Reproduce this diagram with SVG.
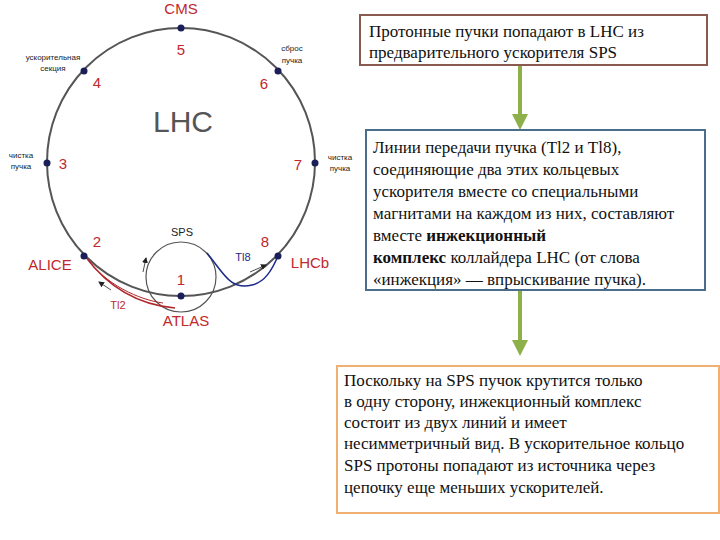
<svg xmlns="http://www.w3.org/2000/svg" width="720" height="540" viewBox="0 0 720 540">
<style>
.lbl{font-family:"Liberation Sans",Arial,sans-serif;fill:#c0282c}
.sm{font-family:"Liberation Sans",Arial,sans-serif;font-size:8px;fill:#222}
.tx{font-family:"Liberation Serif","Times New Roman",serif;font-size:17px;fill:#111}
.dot{fill:#1a1f5a}
</style>
<defs><marker id="ga" markerWidth="4" markerHeight="4" refX="2" refY="2" orient="auto"><path d="M0,0L4,2L0,4z" fill="#8db04a"/></marker>
<marker id="ka" markerWidth="6" markerHeight="6" refX="5" refY="3" orient="auto" markerUnits="userSpaceOnUse"><path d="M0,0L6,3L0,6z" fill="#222"/></marker></defs>
<rect width="720" height="540" fill="#fff"/>
<g id="lhc">
<circle cx="181" cy="162" r="134" fill="none" stroke="#555" stroke-width="2"/>
<text x="183" y="132" font-family="Liberation Sans,Arial,sans-serif" font-size="30" fill="#555" text-anchor="middle">LHC</text>
<circle cx="181" cy="277" r="35" fill="none" stroke="#555" stroke-width="1.2"/>
<text x="182" y="236" font-family="Liberation Sans,Arial,sans-serif" font-size="11" fill="#222" text-anchor="middle">SPS</text>
</g>
<g id="connectors">
<path d="M85,256 C110,290 140,305 175,308" fill="none" stroke="#b0282c" stroke-width="1.5"/>
<path d="M85,256 C105,285 140,300 163,303" fill="none" stroke="#b0282c" stroke-width="1"/>
<path d="M207,253 C225,275 230,290 252,285 C265,282 272,270 278,256" fill="none" stroke="#1a2a8a" stroke-width="1.5"/>
<path d="M250,272 L266,265" stroke="#222" stroke-width="0.8" marker-end="url(#ka)"/>
<path d="M111,290 L99,282" stroke="#222" stroke-width="0.8" marker-end="url(#ka)"/>
<path d="M143,272 L146,258" stroke="#222" stroke-width="0.8" marker-end="url(#ka)"/>
<line x1="520" y1="66" x2="520" y2="122" stroke="#8db04a" stroke-width="4" marker-end="url(#ga)"/>
<line x1="520" y1="291" x2="520" y2="348" stroke="#8db04a" stroke-width="4" marker-end="url(#ga)"/>
</g>
<g id="points">
<circle class="dot" cx="181" cy="28" r="3.5"/><circle class="dot" cx="84" cy="71" r="3.5"/><circle class="dot" cx="278" cy="71" r="3.5"/>
<circle class="dot" cx="47" cy="163" r="3.5"/><circle class="dot" cx="315" cy="163" r="3.5"/>
<circle class="dot" cx="84" cy="256" r="3.5"/><circle class="dot" cx="278" cy="256" r="3.5"/><circle class="dot" cx="181" cy="296" r="3.5"/>
<text class="lbl" x="181" y="14" font-size="15" text-anchor="middle">CMS</text>
<text class="lbl" x="181" y="55" font-size="15" text-anchor="middle">5</text>
<text class="lbl" x="97" y="88" font-size="15" text-anchor="middle">4</text>
<text class="lbl" x="264" y="89" font-size="15" text-anchor="middle">6</text>
<text class="lbl" x="63" y="169" font-size="15" text-anchor="middle">3</text>
<text class="lbl" x="298" y="170" font-size="15" text-anchor="middle">7</text>
<text class="lbl" x="97" y="247" font-size="15" text-anchor="middle">2</text>
<text class="lbl" x="265" y="247" font-size="15" text-anchor="middle">8</text>
<text class="lbl" x="181" y="285" font-size="15" text-anchor="middle">1</text>
<text class="lbl" x="50" y="270" font-size="15" text-anchor="middle">ALICE</text>
<text class="lbl" x="310" y="268" font-size="15" text-anchor="middle">LHCb</text>
<text class="lbl" x="186" y="326" font-size="15" text-anchor="middle">ATLAS</text>
<text class="lbl" x="118" y="309" font-size="11" text-anchor="middle">Tl2</text>
<text x="243" y="261" font-family="Liberation Sans,Arial,sans-serif" font-size="11" fill="#1a2a8a" text-anchor="middle">Tl8</text>
<text class="sm" x="53" y="60" text-anchor="middle">ускорительная</text>
<text class="sm" x="53" y="71" text-anchor="middle">секция</text>
<text class="sm" x="292" y="51" text-anchor="middle">сброс</text>
<text class="sm" x="292" y="63" text-anchor="middle">пучка</text>
<text class="sm" x="21" y="158" text-anchor="middle">чистка</text>
<text class="sm" x="21" y="169" text-anchor="middle">пучка</text>
<text class="sm" x="340" y="160" text-anchor="middle">чистка</text>
<text class="sm" x="340" y="171" text-anchor="middle">пучка</text>
</g>
<g id="box1">
<rect x="360" y="15" width="347" height="50" fill="#fff" stroke="#8a5a50" stroke-width="2"/>
<text class="tx" x="369" y="37">Протонные пучки попадают в LHC из</text>
<text class="tx" x="369" y="58">предварительного ускорителя SPS</text>
</g>
<g id="box2">
<rect x="366" y="130" width="339" height="160" fill="#fff" stroke="#4a6d8c" stroke-width="2"/>
<text class="tx" x="373" y="153">Линии передачи пучка (Tl2 и Tl8),</text>
<text class="tx" x="373" y="175">соединяющие два этих кольцевых</text>
<text class="tx" x="373" y="197">ускорителя вместе со специальными</text>
<text class="tx" x="373" y="219">магнитами на каждом из них, составляют</text>
<text class="tx" x="373" y="241">вместе <tspan font-weight="bold">инжекционный</tspan></text>
<text class="tx" x="373" y="263"><tspan font-weight="bold">комплекс</tspan> коллайдера LHC (от слова</text>
<text class="tx" x="373" y="285">«инжекция» — впрыскивание пучка).</text>
</g>
<g id="box3">
<rect x="337" y="366" width="382" height="147" fill="#fff" stroke="#f0b070" stroke-width="2"/>
<text class="tx" x="344" y="386">Поскольку на SPS пучок крутится только</text>
<text class="tx" x="344" y="407">в одну сторону, инжекционный комплекс</text>
<text class="tx" x="344" y="428">состоит из двух линий и имеет</text>
<text class="tx" x="344" y="449">несимметричный вид. В ускорительное кольцо</text>
<text class="tx" x="344" y="471">SPS протоны попадают из источника через</text>
<text class="tx" x="344" y="493">цепочку еще меньших ускорителей.</text>
</g>
</svg>
